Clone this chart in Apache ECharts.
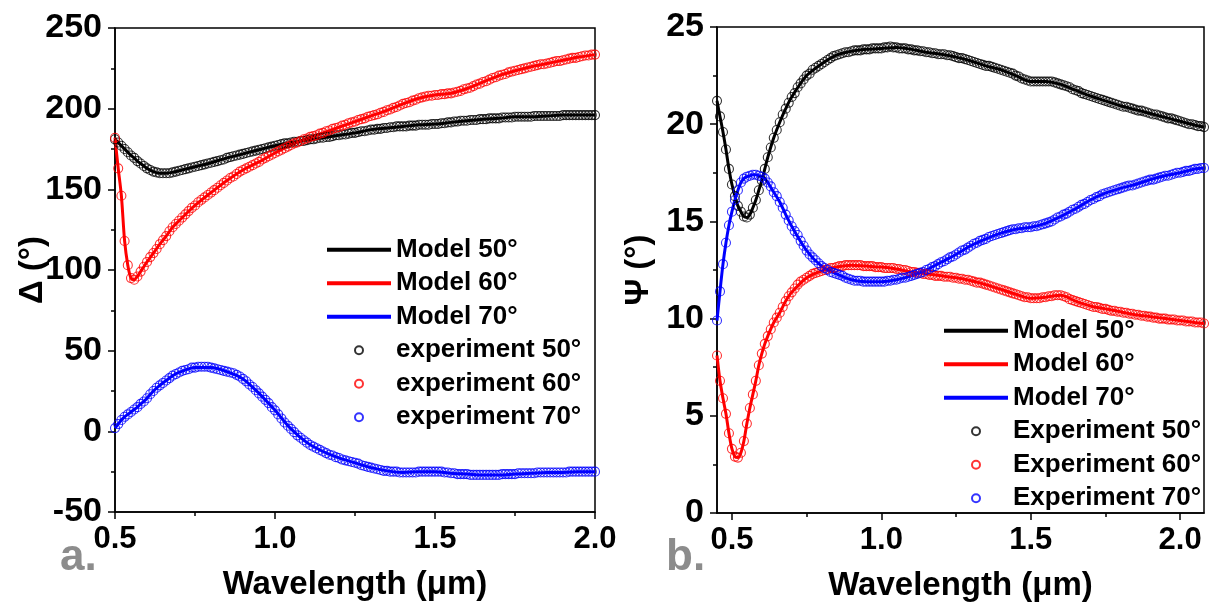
<!DOCTYPE html>
<html>
<head>
<meta charset="utf-8">
<script src="https://cdn.jsdelivr.net/npm/echarts@6/dist/echarts.min.js"></script>
<style>
html,body{margin:0;padding:0;background:#fff;}
#chart{width:1212px;height:606px;}
</style>
</head>
<body>
<div id="chart"></div>
<script>
// ---------- Panel a: Delta (deg) vs wavelength (um) ----------
const lambdaA = [
0.50,0.51,0.52,0.53,0.54,0.55,0.56,0.57,0.58,0.59,
0.60,0.61,0.62,0.63,0.64,0.65,0.66,0.67,0.68,0.69,
0.70,0.71,0.72,0.73,0.74,0.75,0.76,0.77,0.78,0.79,
0.80,0.81,0.82,0.83,0.84,0.85,0.86,0.87,0.88,0.89,
0.90,0.91,0.92,0.93,0.94,0.95,0.96,0.97,0.98,0.99,
1.00,1.01,1.02,1.03,1.04,1.05,1.06,1.07,1.08,1.09,
1.10,1.11,1.12,1.13,1.14,1.15,1.16,1.17,1.18,1.19,
1.20,1.21,1.22,1.23,1.24,1.25,1.26,1.27,1.28,1.29,
1.30,1.31,1.32,1.33,1.34,1.35,1.36,1.37,1.38,1.39,
1.40,1.41,1.42,1.43,1.44,1.45,1.46,1.47,1.48,1.49,
1.50,1.51,1.52,1.53,1.54,1.55,1.56,1.57,1.58,1.59,
1.60,1.61,1.62,1.63,1.64,1.65,1.66,1.67,1.68,1.69,
1.70,1.71,1.72,1.73,1.74,1.75,1.76,1.77,1.78,1.79,
1.80,1.81,1.82,1.83,1.84,1.85,1.86,1.87,1.88,1.89,
1.90,1.91,1.92,1.93,1.94,1.95,1.96,1.97,1.98,1.99,
2.00];
const deltaExp50 = [
181,179,177,175,173,171,169.5,167.5,166,164.5,
163,162,161,160.5,160,160,160,160,160.5,161,
161.5,162,162.5,163,163.5,164,164.5,165,165.5,166,
166.5,167,167.5,168,168.5,169.5,170,170.5,171,171.5,
172,172.5,173,173.5,174,174.5,175,175.5,176,176.5,
177,177.5,178,178.5,178.5,179,179.5,179.5,180,180,
180.5,181,181,181.5,182,182,182.5,182.5,183,183.5,
183.5,184,184,184.5,185,185,185.5,186,186,186.5,
187,187,187.5,187.5,188,188,188.5,188.5,189,189,
189,189,189.5,189.5,189.5,190,190,190,190,190.5,
190.5,190.5,191,191,191.5,191.5,192,192,192.5,192.5,
192.5,193,193,193,193.5,193.5,193.5,194,194,194,
194,194.5,194.5,194.5,194.5,195,195,195,195,195,
195,195.5,195.5,195.5,195.5,195.5,195.5,195.5,195.5,195.5,
196,196,196,196,196,196,196,196,196,196,
196];
const deltaExp60 = [
182,163,146,118,103,95,94,96,99,102,
105,108,110.5,113,116,118.5,121,124,126.5,128.5,
130.5,132.5,134.5,136.5,138.5,140,142,143.5,145,146.5,
148,149.5,151,152.5,154,155.5,157,158,159.5,161,
162,163,164,165,166,167,168.5,169.5,170.5,171.5,
172.5,173.5,174.5,175.5,176.5,177.5,178.5,179,180,181,
181.5,182.5,183,183.5,184.5,185,186,186.5,187.5,188,
188.5,189.5,190,191,191.5,192,193,193.5,194,195,
195.5,196,196.5,197.5,198,199,199.5,200.5,201,202,
203,203.5,204,205,205.5,206.5,207,207.5,208,208,
208.5,208.5,209,209,209.5,209.5,210,210.5,211,212,
212.5,213,214,215,215.5,216.5,217,218,219,219.5,
220.5,221,221.5,222.5,223,223.5,224,224.5,225,225.5,
226,226.5,227,227.5,227.5,228,228.5,229,229.5,229.5,
230,230.5,231,231.5,231.5,232,232.5,233,233,233.5,
233.5];
const deltaExp70 = [
2,4.5,7,9,10.5,12,13.5,15,17,18.5,
20.5,23,25,27,28.5,30,31.5,33,34.5,35.5,
36.5,37.5,38,38.5,39.5,39.5,40,40,40,40,
39.5,39,38.5,38,37.5,37,36.5,36,35,34,
32.5,31,29,27.5,25.5,23.5,21.5,19.5,17.5,15,
13,10.5,8,5.5,3.5,1.5,-0.5,-2.5,-4,-5.5,
-7,-8.5,-9.5,-10.5,-11.5,-12.5,-13.5,-14.5,-15,-16,
-16.5,-17.5,-18,-18.5,-19,-19.5,-20,-21,-21.5,-22,
-22.5,-23,-23.5,-24,-24.5,-24.5,-25,-25,-25,-25.5,
-25.5,-25.5,-25.5,-25.5,-25.5,-25,-25,-25,-25,-25,
-25,-25,-25,-25.5,-25.5,-26,-26,-26.5,-26.5,-26.5,
-26.5,-27,-27,-27,-27,-27,-27,-27,-27,-27,
-27,-26.5,-26.5,-26.5,-26.5,-26.5,-26,-26,-26,-26,
-26,-26,-25.5,-25.5,-25.5,-25.5,-25.5,-25.5,-25.5,-25.5,
-25.5,-25.5,-25,-25,-25,-25,-25,-25,-25,-25,
-25];
const modelLambdaA = [0.50,0.51,0.52,0.53,0.54,0.55,0.56,0.57,0.58,0.59,0.60,0.62,0.64,0.66,0.68,0.70,
0.75,0.80,0.85,0.90,0.95,1.00,1.05,1.10,1.15,1.20,1.25,1.30,1.35,1.40,1.45,1.50,1.55,1.60,1.65,1.70,1.75,1.80,1.85,1.90,1.95,2.00];
const deltaModel50 = [181,179,177,175,173,171,169.5,167.5,166,164.5,163,161,160,160,160.5,161.5,
164,166.5,169.5,172,174.5,177,179,180.5,182,183.5,185,187,188,189,190,190.5,191.5,192.5,193.5,194,195,195,195.5,196,196,196];
const deltaModel60 = [182,163,146,118,103,95,94,96,99,102,105,110.5,116,121,126.5,130.5,
140,148,155.5,162,167,172.5,177.5,181.5,185,188.5,192,195.5,199,203,206.5,208.5,209.5,212.5,216.5,220.5,223.5,226,228,230,232,233.5];
const deltaModel70 = [2,4.5,7,9,10.5,12,13.5,15,17,18.5,20.5,25,28.5,31.5,34.5,36.5,
39.5,39.5,37,32.5,23.5,13,1.5,-7,-12.5,-16.5,-19.5,-22.5,-24.5,-25.5,-25,-25,-26,-26.5,-27,-27,-26.5,-26,-25.5,-25.5,-25,-25];

// ---------- Panel b: Psi (deg) vs wavelength (um) ----------
const lambdaB = [
0.45,0.46,0.47,0.48,0.49,
0.50,0.51,0.52,0.53,0.54,0.55,0.56,0.57,0.58,0.59,
0.60,0.61,0.62,0.63,0.64,0.65,0.66,0.67,0.68,0.69,
0.70,0.71,0.72,0.73,0.74,0.75,0.76,0.77,0.78,0.79,
0.80,0.81,0.82,0.83,0.84,0.85,0.86,0.87,0.88,0.89,
0.90,0.91,0.92,0.93,0.94,0.95,0.96,0.97,0.98,0.99,
1.00,1.01,1.02,1.03,1.04,1.05,1.06,1.07,1.08,1.09,
1.10,1.11,1.12,1.13,1.14,1.15,1.16,1.17,1.18,1.19,
1.20,1.21,1.22,1.23,1.24,1.25,1.26,1.27,1.28,1.29,
1.30,1.31,1.32,1.33,1.34,1.35,1.36,1.37,1.38,1.39,
1.40,1.41,1.42,1.43,1.44,1.45,1.46,1.47,1.48,1.49,
1.50,1.51,1.52,1.53,1.54,1.55,1.56,1.57,1.58,1.59,
1.60,1.61,1.62,1.63,1.64,1.65,1.66,1.67,1.68,1.69,
1.70,1.71,1.72,1.73,1.74,1.75,1.76,1.77,1.78,1.79,
1.80,1.81,1.82,1.83,1.84,1.85,1.86,1.87,1.88,1.89,
1.90,1.91,1.92,1.93,1.94,1.95,1.96,1.97,1.98,1.99,
2.00,2.01,2.02,2.03,2.04,2.05,2.06,2.07,2.08];
const psiExp50 = [
21.2,20.4,19.6,18.7,17.7,
16.9,16.3,15.8,15.5,15.25,15.2,15.35,15.7,16.1,16.6,
17.1,17.7,18.3,18.8,19.3,19.7,20.1,20.5,20.8,21.1,
21.4,21.6,21.9,22.1,22.3,22.5,22.6,22.8,22.9,23.0,
23.1,23.2,23.3,23.4,23.5,23.55,23.6,23.65,23.7,23.7,
23.75,23.8,23.8,23.8,23.85,23.85,23.85,23.9,23.9,23.9,
23.9,23.95,23.95,24.0,23.95,23.95,23.9,23.9,23.9,23.85,
23.85,23.8,23.8,23.75,23.75,23.7,23.7,23.65,23.65,23.6,
23.6,23.6,23.55,23.55,23.5,23.45,23.4,23.4,23.35,23.3,
23.25,23.2,23.15,23.1,23.05,23.0,23.0,22.95,22.9,22.85,
22.8,22.75,22.7,22.65,22.6,22.5,22.45,22.35,22.3,22.25,
22.2,22.2,22.2,22.2,22.2,22.2,22.2,22.2,22.15,22.1,
22.05,22.0,21.95,21.9,21.8,21.75,21.7,21.6,21.55,21.5,
21.45,21.4,21.35,21.3,21.25,21.2,21.15,21.1,21.05,21.0,
20.95,20.9,20.9,20.85,20.8,20.75,20.7,20.7,20.65,20.6,
20.55,20.5,20.5,20.45,20.4,20.35,20.3,20.3,20.25,20.2,
20.15,20.1,20.05,20.0,20.0,19.95,19.9,19.9,19.85];
const psiExp60 = [
8.1,6.8,5.9,5.1,4.1,
3.3,2.9,2.85,3.1,3.7,4.6,5.4,6.1,6.8,7.6,
8.2,8.7,9.1,9.45,9.8,10.05,10.3,10.6,10.9,11.15,
11.35,11.55,11.75,11.9,12.0,12.1,12.2,12.3,12.35,12.4,
12.45,12.5,12.55,12.6,12.6,12.65,12.7,12.7,12.75,12.75,
12.75,12.75,12.75,12.75,12.7,12.7,12.7,12.7,12.65,12.65,
12.65,12.6,12.6,12.6,12.6,12.55,12.55,12.5,12.5,12.45,
12.4,12.4,12.35,12.35,12.3,12.3,12.25,12.25,12.2,12.2,
12.2,12.15,12.15,12.15,12.1,12.1,12.05,12.05,12.0,12.0,
11.95,11.9,11.85,11.85,11.8,11.75,11.7,11.65,11.6,11.55,
11.5,11.45,11.4,11.35,11.3,11.25,11.2,11.15,11.1,11.1,
11.05,11.05,11.05,11.05,11.1,11.1,11.15,11.15,11.2,11.2,
11.2,11.15,11.1,11.0,10.95,10.9,10.85,10.8,10.75,10.7,
10.65,10.6,10.6,10.55,10.5,10.5,10.45,10.4,10.4,10.35,
10.35,10.3,10.3,10.25,10.25,10.2,10.2,10.15,10.15,10.1,
10.1,10.05,10.05,10.0,10.0,10.0,9.95,9.95,9.95,9.9,
9.9,9.9,9.85,9.85,9.85,9.8,9.8,9.8,9.75];
const psiExp70 = [
9.9,11.4,12.8,13.9,14.8,
15.5,16.1,16.6,17.0,17.2,17.3,17.35,17.4,17.4,17.35,
17.3,17.2,17.0,16.8,16.5,16.3,16.0,15.7,15.35,15.05,
14.75,14.5,14.3,14.0,13.75,13.5,13.3,13.15,13.0,12.85,
12.7,12.6,12.5,12.4,12.35,12.3,12.25,12.2,12.1,12.05,
12.0,11.95,11.95,11.95,11.9,11.9,11.9,11.9,11.9,11.9,
11.9,11.9,11.95,11.95,12.0,12.0,12.05,12.1,12.1,12.15,
12.2,12.25,12.3,12.35,12.4,12.5,12.55,12.65,12.7,12.8,
12.9,12.95,13.05,13.15,13.2,13.3,13.4,13.5,13.55,13.65,
13.75,13.85,13.9,14.0,14.05,14.1,14.2,14.25,14.3,14.35,
14.4,14.45,14.5,14.55,14.6,14.6,14.65,14.65,14.7,14.7,
14.7,14.75,14.75,14.8,14.85,14.9,14.95,15.0,15.1,15.2,
15.25,15.35,15.4,15.5,15.6,15.65,15.75,15.85,15.9,16.0,
16.1,16.15,16.25,16.3,16.4,16.45,16.5,16.55,16.6,16.65,
16.7,16.75,16.8,16.85,16.85,16.9,16.95,17.0,17.05,17.1,
17.15,17.15,17.2,17.25,17.3,17.35,17.35,17.4,17.45,17.5,
17.5,17.55,17.6,17.6,17.65,17.7,17.7,17.75,17.75];
const modelLambdaB = [0.45,0.46,0.47,0.48,0.49,0.50,0.51,0.52,0.53,0.54,0.55,0.56,0.57,0.58,0.59,0.60,0.61,0.62,
0.64,0.66,0.68,0.70,
0.75,0.80,0.85,0.90,0.95,1.00,1.05,1.10,1.15,1.20,1.25,1.30,1.35,1.40,1.45,1.50,1.55,1.60,1.65,1.70,1.75,1.80,1.85,1.90,1.95,2.00,2.05,
2.08];
const psiModel50 = [21.2,20.4,19.6,18.7,17.7,16.9,16.3,15.8,15.5,15.25,15.2,15.35,15.7,16.1,16.6,17.1,17.7,18.3,
19.3,20.1,20.8,21.4,
22.5,23.1,23.55,23.75,23.85,23.9,23.95,23.85,23.7,23.6,23.45,23.25,23.0,22.8,22.5,22.2,22.2,22.05,21.75,21.45,21.2,20.95,20.75,20.55,20.35,20.15,19.95,
19.85];
const psiModel60 = [8.1,6.8,5.9,5.1,4.1,3.3,2.9,2.85,3.1,3.7,4.6,5.4,6.1,6.8,7.6,8.2,8.7,9.1,
9.8,10.3,10.9,11.35,
12.1,12.45,12.65,12.75,12.7,12.65,12.55,12.4,12.3,12.2,12.1,11.95,11.75,11.5,11.25,11.05,11.1,11.2,10.9,10.65,10.5,10.35,10.2,10.1,10.0,9.9,9.8,
9.75];
const psiModel70 = [9.9,11.4,12.8,13.9,14.8,15.5,16.1,16.6,17.0,17.2,17.3,17.35,17.4,17.4,17.35,17.3,17.2,17.0,
16.5,16.0,15.35,14.75,
13.5,12.7,12.3,12.0,11.9,11.9,12.0,12.2,12.5,12.9,13.3,13.75,14.1,14.4,14.6,14.7,14.9,15.25,15.65,16.1,16.45,16.7,16.9,17.15,17.35,17.5,17.7,
17.75];

const xTicksB = [0.5, 1.0, 1.5, 2.0];
const xMinorTicksB = [0.75, 1.25, 1.75];
const namesA = ['Model 50°','Model 60°','Model 70°','experiment 50°','experiment 60°','experiment 70°'];
const namesB = ['Model 50°','Model 60°','Model 70°','Experiment 50°','Experiment 60°','Experiment 70°'];
const colors = ['#000000', '#ff0000', '#0000ff'];

// ---------- build ----------
const pairs = (xs, ys) => xs.map((x, i) => [x, ys[i]]);
const FONT = 'Liberation Sans';
const axisLineStyle = { color: '#000', width: 1.5 };
const LINE_ICON = 'path://M0,0H64V4H0Z';

function xAxisBase(extra) {
  return Object.assign({
    type: 'value',
    position: 'bottom',
    axisLine: { show: true, onZero: false, lineStyle: axisLineStyle },
    axisTick: { show: true, inside: false, length: 7, lineStyle: axisLineStyle },
    splitLine: { show: false },
    axisLabel: { fontSize: 31, fontWeight: 'bold', color: '#000', margin: 12, fontFamily: FONT,
      formatter: v => v.toFixed(1) },
    nameMoveOverlap: false,
    nameTextStyle: { fontSize: 33, fontWeight: 'bold', color: '#000', fontFamily: FONT },
  }, extra);
}
function yAxisBase(extra) {
  return Object.assign({
    type: 'value',
    axisLine: { show: true, onZero: false, lineStyle: axisLineStyle },
    axisTick: { show: true, inside: false, length: 7, lineStyle: axisLineStyle },
    minorTick: { show: true, splitNumber: 2, length: 4, lineStyle: axisLineStyle },
    splitLine: { show: false },
    minorSplitLine: { show: false },
    axisLabel: { fontSize: 34, fontWeight: 'bold', color: '#000', margin: 13, fontFamily: FONT },
    nameLocation: 'middle',
    nameMoveOverlap: false,
    nameTextStyle: { fontSize: 33, fontWeight: 'bold', color: '#000', fontFamily: FONT },
  }, extra);
}

const series = [];
function addPanel(idx, xsExp, expArrs, xsModel, modelArrs, names) {
  modelArrs.forEach((arr, k) => {
    series.push({
      name: names[k], type: 'line', xAxisIndex: idx === 0 ? 0 : 1, yAxisIndex: idx,
      data: pairs(xsModel, arr), symbol: 'none', smooth: 0.3,
      lineStyle: { color: colors[k], width: 3 }, itemStyle: { color: colors[k] },
      z: 2, animation: false, silent: true
    });
  });
  expArrs.forEach((arr, k) => {
    series.push({
      name: names[k + 3], type: 'scatter', xAxisIndex: idx === 0 ? 0 : 1, yAxisIndex: idx,
      data: pairs(xsExp, arr), symbol: 'circle', symbolSize: 9,
      itemStyle: { color: 'rgba(255,255,255,0)', borderColor: colors[k], borderWidth: 1.1 },
      z: 3, animation: false, silent: true
    });
  });
}
addPanel(0, lambdaA, [deltaExp50, deltaExp60, deltaExp70], modelLambdaA, [deltaModel50, deltaModel60, deltaModel70], namesA);
addPanel(1, lambdaB, [psiExp50, psiExp60, psiExp70], modelLambdaB, [psiModel50, psiModel60, psiModel70], namesB);

const legendText = { fontSize: 26, fontWeight: 'bold', color: '#000', fontFamily: FONT, lineHeight: 33.5 };
const legendData = names => names.map((n, i) => i < 3
  ? { name: n, icon: LINE_ICON, itemStyle: { color: colors[i], borderWidth: 0 } }
  : { name: n });

const option = {
  backgroundColor: '#fff',
  animation: false,
  textStyle: { fontFamily: FONT },
  grid: [
    { left: 115, top: 28, width: 480, height: 484, show: true, borderColor: '#000', borderWidth: 1.5, backgroundColor: 'transparent', outerBoundsMode: 'none' },
    { left: 717, top: 27, width: 487, height: 486, show: true, borderColor: '#000', borderWidth: 1.5, backgroundColor: 'transparent', outerBoundsMode: 'none' }
  ],
  xAxis: [
    xAxisBase({ gridIndex: 0, min: 0.5, max: 2.0, interval: 0.5,
      minorTick: { show: true, splitNumber: 2, length: 4, lineStyle: axisLineStyle },
      name: 'Wavelength (μm)', nameLocation: 'middle', nameGap: 56 }),
    xAxisBase({ gridIndex: 1, min: 0.45, max: 2.08,
      axisTick: { show: true, inside: false, length: 7, lineStyle: axisLineStyle, customValues: xTicksB },
      axisLabel: { fontSize: 31, fontWeight: 'bold', color: '#000', margin: 12, fontFamily: FONT,
        customValues: xTicksB, formatter: v => Number(v).toFixed(1) },
      name: 'Wavelength (μm)', nameLocation: 'middle', nameGap: 56 }),
    xAxisBase({ gridIndex: 1, min: 0.45, max: 2.08,
      axisLine: { show: false },
      axisTick: { show: true, inside: false, length: 4, lineStyle: axisLineStyle, customValues: xMinorTicksB },
      axisLabel: { show: false }, silent: true })
  ],
  yAxis: [
    yAxisBase({ gridIndex: 0, min: -50, max: 250, interval: 50, name: 'Δ (°)', nameGap: 66 }),
    yAxisBase({ gridIndex: 1, min: 0, max: 25, interval: 5, name: 'Ψ (°)', nameGap: 62 })
  ],
  legend: [
    { orient: 'vertical', left: 327, top: 233, itemWidth: 64, itemHeight: 8, itemGap: 0,
      data: legendData(namesA), textStyle: legendText, lineStyle: { width: 4 }, selectedMode: false, padding: 0 },
    { orient: 'vertical', left: 944, top: 314, itemWidth: 64, itemHeight: 8, itemGap: 0,
      data: legendData(namesB), textStyle: legendText, lineStyle: { width: 4 }, selectedMode: false, padding: 0 }
  ],
  graphic: [
    { type: 'text', left: 60, top: 536, style: { text: 'a.', fontSize: 44, fontWeight: 'bold', fontFamily: FONT, fill: '#8c8c8c' } },
    { type: 'text', left: 666, top: 536, style: { text: 'b.', fontSize: 44, fontWeight: 'bold', fontFamily: FONT, fill: '#8c8c8c' } }
  ],
  series: series
};

const chart = echarts.init(document.getElementById('chart'), null, { renderer: 'canvas' });
chart.setOption(option);
</script>
</body>
</html>
